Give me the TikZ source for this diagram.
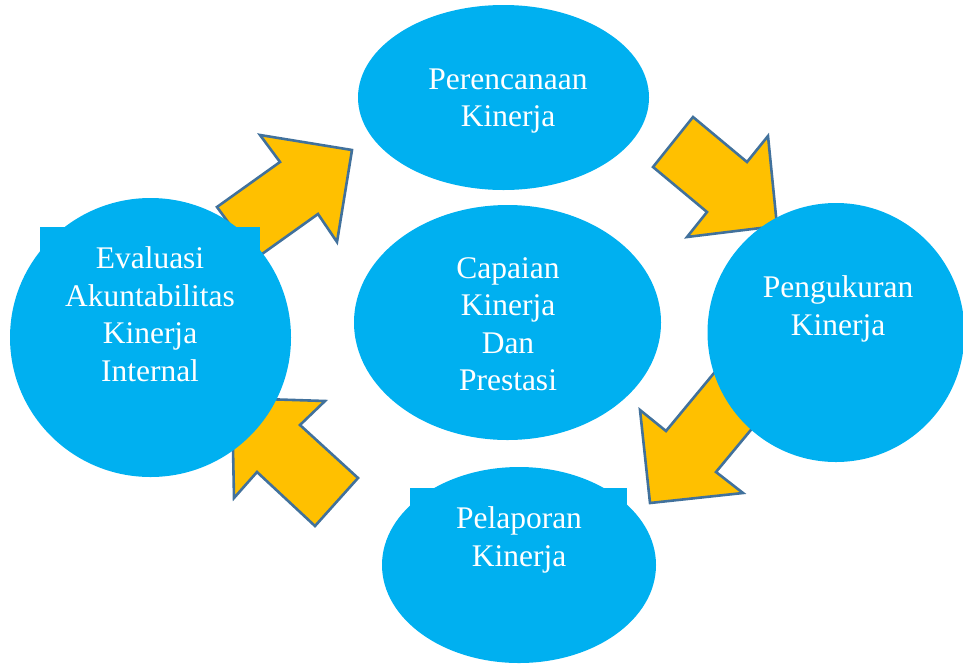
\documentclass[tikz,border=0pt]{standalone}
\usepackage{fontspec}
\setmainfont{Liberation Serif}
\usetikzlibrary{shapes.geometric}
\definecolor{bubble}{HTML}{00B0F0}
\definecolor{arrowfill}{HTML}{FFC000}
\definecolor{arrowline}{HTML}{41719C}
\tikzset{
  blockarrow/.style={fill=arrowfill, draw=arrowline, line width=2.6pt, line join=miter},
  bubble/.style={ellipse, fill=bubble, draw=none, inner sep=0pt},
  caption/.style={text=white, align=center, inner sep=0pt,
    font=\fontsize{31.5}{37.5}\selectfont},
}
\begin{document}
\begin{tikzpicture}[x=1pt, y=-1pt]
\useasboundingbox (0,0) rectangle (963,665);

% block arrows (drawn first, the bubbles overlap their ends)
\draw[blockarrow] (217,207) -- (280,162) -- (260,135) -- (352,150)
  -- (337,242) -- (318,214) -- (255,259) -- cycle;
\draw[blockarrow] (653,167) -- (693,117) -- (747,162) -- (768,136)
  -- (777,226) -- (687,237) -- (707,212) -- cycle;
\draw[blockarrow] (724,361) -- (666,431) -- (640,410) -- (650,503)
  -- (743,493) -- (716,472) -- (774,402) -- cycle;
\draw[blockarrow] (358,478) -- (300,425) -- (325,401) -- (232,398)
  -- (234,498) -- (257,472) -- (315,526) -- cycle;

% bubbles
\node[bubble, minimum width=291pt, minimum height=185pt] (plan) at (503.5,97.5) {};
\node[bubble, minimum width=307pt, minimum height=235pt] (goal) at (507.5,322.5) {};
\node[bubble, minimum width=257pt, minimum height=259pt] (measure) at (836,332.5) {};
\node[bubble, minimum width=274pt, minimum height=196pt] (report) at (519,565) {};
\node[bubble, minimum width=281pt, minimum height=279pt] (eval) at (150.5,337.5) {};

% text box backgrounds showing past the bubble edges
\fill[bubble] (40,227) rectangle (260,380);
\fill[bubble] (410,488) rectangle (627,600);

% captions
\node[caption] (tplan) at (508,101) {Perencanaan\\Kinerja};
\node[caption] (tgoal) at (508,324) {Capaian\\Kinerja\\Dan\\Prestasi};
\node[caption] (tmeasure) at (838,309) {Pengukuran\\Kinerja};
\node[caption] (treport) at (519,540) {Pelaporan\\Kinerja};
\node[caption] (teval) at (150,314) {Evaluasi\\Akuntabilitas\\Kinerja\\Internal};
\end{tikzpicture}
\end{document}
